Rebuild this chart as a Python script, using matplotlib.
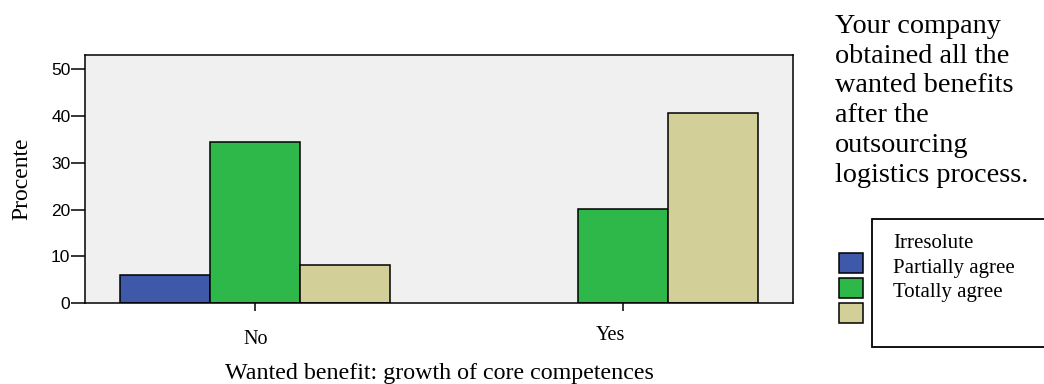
import matplotlib
matplotlib.use("Agg")
import matplotlib.pyplot as plt
from matplotlib.patches import Rectangle
from matplotlib.transforms import ScaledTranslation
import numpy as np

# Data
categories = ["No", "Yes"]
series_names = ["Irresolute", "Partially agree", "Totally agree"]
series_colors = ["#3E58AA", "#2EB84A", "#D3CF98"]
values = {
    "Irresolute": [6.1, 0.0],
    "Partially agree": [34.4, 20.2],
    "Totally agree": [8.1, 40.6],
}
y_ticks = [0, 10, 20, 30, 40, 50]

serif = ["Liberation Serif", "DejaVu Serif"]
sans = ["Liberation Sans", "DejaVu Sans"]

W, H = 1044, 384
fig = plt.figure(figsize=(W / 100, H / 100), dpi=100)
ax = fig.add_axes([85 / W, 1 - 303 / H, (793 - 85) / W, (303 - 55) / H])
ax.set_facecolor("#F0F0F0")

x = np.arange(len(categories))
bar_w = 0.245
for i, name in enumerate(series_names):
    offs = (i - 1) * bar_w
    vals = values[name]
    for xi, v in zip(x, vals):
        if v > 0:
            ax.bar(xi + offs, v, width=bar_w, color=series_colors[i],
                   edgecolor="black", linewidth=1.1, zorder=2)

ax.set_xlim(-0.463, 1.463)
ax.set_ylim(0, 53.1)
ax.set_yticks(y_ticks)
ax.set_yticklabels([str(t) for t in y_ticks], fontfamily=sans, fontsize=12.5)
ax.tick_params(axis="y", length=10, width=1.1, pad=0.5)
ax.set_xticks(x)
ax.set_xticklabels(categories, fontfamily=serif, fontsize=14.5)
ax.tick_params(axis="x", length=6, width=1.1, pad=13.5)

# nudge the "Yes" label slightly left and up
lbls = ax.get_xticklabels()
lbls[1].set_transform(lbls[1].get_transform()
                      + ScaledTranslation(-12 / 100, 4 / 100, fig.dpi_scale_trans))

for s in ax.spines.values():
    s.set_linewidth(1.1)

ax.set_ylabel("Procente", fontfamily=serif, fontsize=17)
ax.yaxis.set_label_coords(-63 / (793 - 85), (303 - 179) / (303 - 55))
ax.yaxis.label.set_va("center")
ax.set_xlabel("Wanted benefit: growth of core competences",
              fontfamily=serif, fontsize=17.3)
ax.xaxis.set_label_coords(0.5, -(373 - 303) / (303 - 55))
ax.xaxis.label.set_va("center")

# Title block on the right
fig.text(835 / W, 1 - 14 / H,
         "Your company\nobtained all the\nwanted benefits\nafter the\noutsourcing\nlogistics process.",
         fontfamily=serif, fontsize=20.3, va="top", ha="left", linespacing=1.25)

# Legend box
fig.patches.append(Rectangle((872 / W, 1 - 347 / H), (1060 - 872) / W, (347 - 219) / H,
                             transform=fig.transFigure, facecolor="white",
                             edgecolor="black", linewidth=1.3))
for i, name in enumerate(series_names):
    top = 253 + i * 25
    fig.patches.append(Rectangle((839 / W, 1 - (top + 20) / H), 24 / W, 20 / H,
                                 transform=fig.transFigure, facecolor=series_colors[i],
                                 edgecolor="black", linewidth=1.1))
    fig.text(893 / W, 1 - (244 + i * 24.5) / H, name, fontfamily=serif,
             fontsize=15, va="center", ha="left")

fig.savefig("out.png", dpi=100)
